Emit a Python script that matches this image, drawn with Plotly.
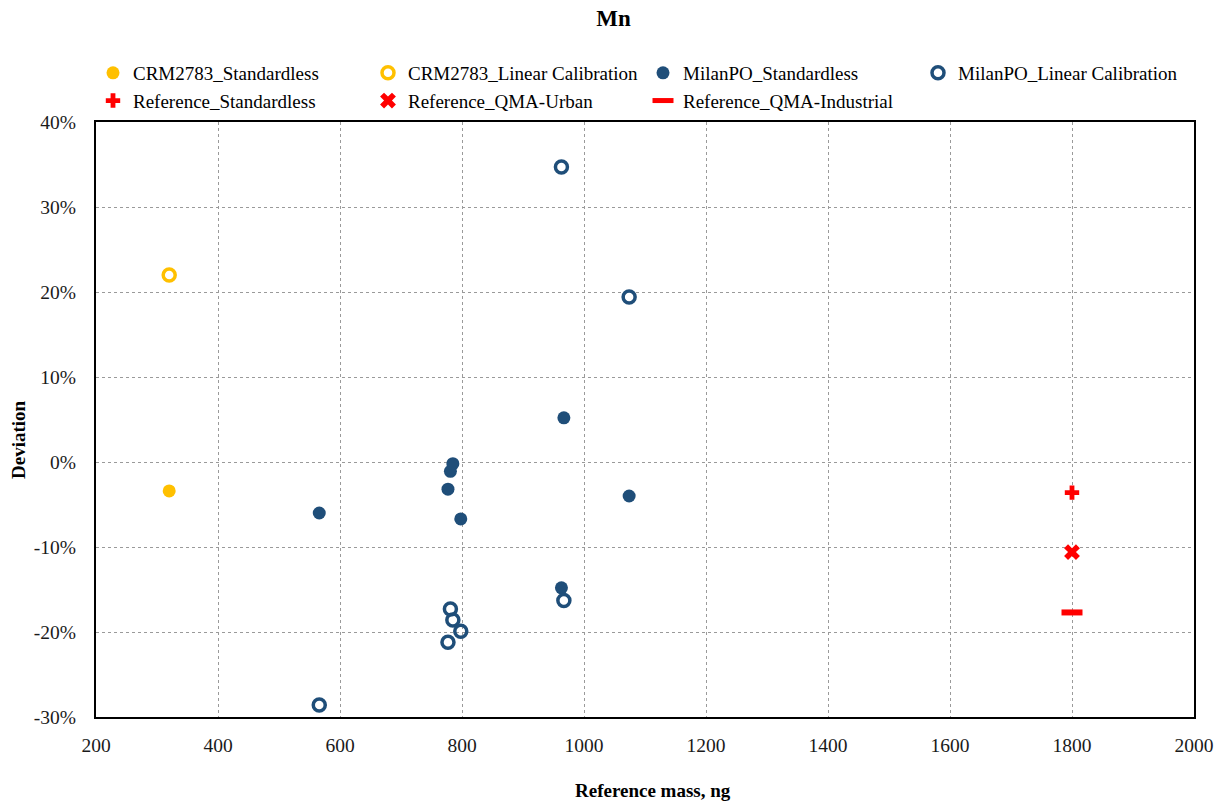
import plotly.graph_objects as go

# Reference masses (ng) and relative deviations (%) for Mn
crm_mass = [320]
crm_standardless = [-3.4]
crm_linear = [22.0]

milan_mass = [566, 777, 781, 785, 798, 963, 967, 1074]
milan_standardless = [-6.0, -3.2, -1.1, -0.2, -6.7, -14.8, 5.2, -4.0]
milan_linear = [-28.6, -21.2, -17.3, -18.6, -19.9, 34.7, -16.3, 19.4]

ref_mass = [1800]
ref_standardless = [-3.6]
ref_qma_urban = [-10.6]
ref_qma_industrial = [-17.7]

x_ticks = [200, 400, 600, 800, 1000, 1200, 1400, 1600, 1800, 2000]
y_ticks = [-30, -20, -10, 0, 10, 20, 30, 40]
y_tick_text = ["-30%", "-20%", "-10%", "0%", "10%", "20%", "30%", "40%"]

YELLOW = "#FFC000"
NAVY = "#1F4E79"
RED = "#FF0000"
FONT = "Liberation Serif"

fig = go.Figure()

def add(name, x, y, symbol, color, size, line_width=0, line_color=None):
    fig.add_trace(go.Scatter(
        x=x, y=y, mode="markers", name=name,
        marker=dict(symbol=symbol, color=color, size=size,
                    line=dict(width=line_width, color=line_color or color)),
    ))

add("CRM2783_Standardless", crm_mass, crm_standardless, "circle", YELLOW, 13)
add("CRM2783_Linear Calibration", crm_mass, crm_linear, "circle-open", YELLOW, 12, 3.5)
add("MilanPO_Standardless", milan_mass, milan_standardless, "circle", NAVY, 13)
add("MilanPO_Linear Calibration", milan_mass, milan_linear, "circle-open", NAVY, 12, 3.5)
add("Reference_Standardless", ref_mass, ref_standardless, "cross", RED, 12)
add("Reference_QMA-Urban", ref_mass, ref_qma_urban, "x", RED, 14)
add("Reference_QMA-Industrial", ref_mass, ref_qma_industrial, "line-ew", RED, 15, 6)

fig.update_layout(
    width=1227, height=808,
    margin=dict(l=96, r=33, t=122, b=91, autoexpand=False),
    paper_bgcolor="white", plot_bgcolor="white",
    font=dict(family=FONT, size=19, color="#000000"),
    title=dict(text="<b>Mn</b>", x=0.5, xref="container", xanchor="center",
               y=1 - 18 / 808, yref="container", yanchor="middle",
               font=dict(family=FONT, size=23, color="#000000")),
    legend=dict(orientation="h", x=93 / 1227, xanchor="left", xref="container",
                y=1 - 54 / 808, yanchor="top", yref="container",
                entrywidth=230, entrywidthmode="pixels",
                font=dict(family=FONT, size=19, color="#000000"),
                itemwidth=30, tracegroupgap=0, bgcolor="rgba(0,0,0,0)"),
    showlegend=True,
)

fig.update_xaxes(
    range=[200, 2000], tickvals=x_ticks, showgrid=True, gridcolor="#9A9A9A",
    griddash="dot", gridwidth=1, showline=True, linecolor="black", linewidth=2,
    mirror=True, zeroline=False, ticks="outside", ticklen=10, tickcolor="rgba(0,0,0,0)",
    tickfont=dict(family=FONT, size=19.5, color="#1a1a1a"),
)
fig.update_yaxes(
    range=[-30, 40], tickvals=y_ticks, ticktext=y_tick_text, showgrid=True,
    gridcolor="#9A9A9A", griddash="dot", gridwidth=1, showline=True,
    linecolor="black", linewidth=2, mirror=True, zeroline=False,
    ticks="outside", ticklen=14, tickcolor="rgba(0,0,0,0)",
    tickfont=dict(family=FONT, size=19.5, color="#1a1a1a"),
)

# Axis titles
fig.add_annotation(text="<b>Reference mass, ng</b>", xref="paper", yref="paper",
                   x=(653 - 96) / 1098, y=-(790 - 717) / 595, xanchor="center",
                   yanchor="middle", showarrow=False,
                   font=dict(family=FONT, size=19, color="#000000"))
fig.add_annotation(text="<b>Deviation</b>", xref="paper", yref="paper",
                   x=(18 - 96) / 1098, y=(717 - 440) / 595, xanchor="center",
                   yanchor="middle", textangle=-90, showarrow=False,
                   font=dict(family=FONT, size=19, color="#000000"))

fig.write_html("out.html")
